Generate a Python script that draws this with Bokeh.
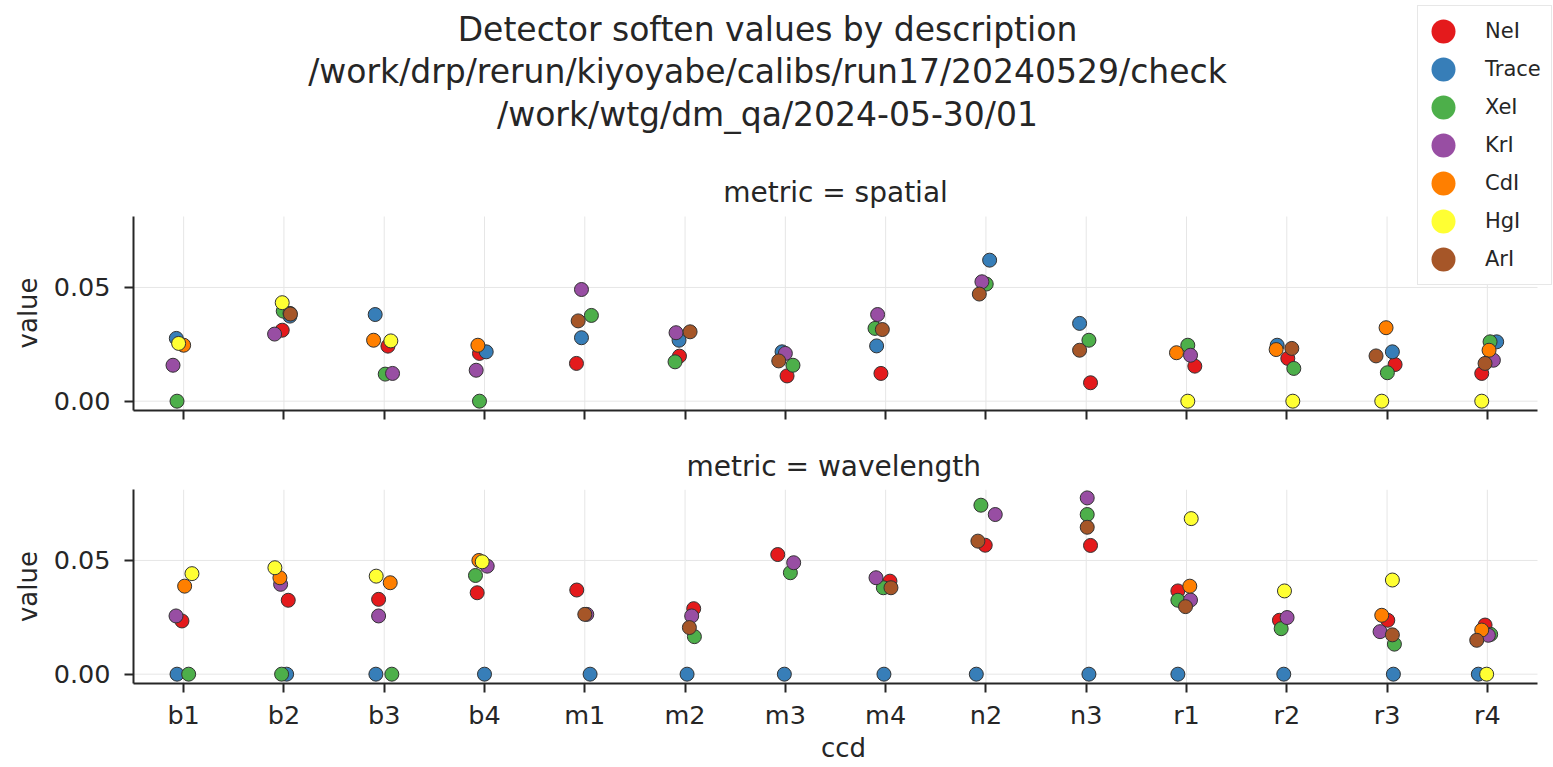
import numpy as np
from bokeh.plotting import figure
from bokeh.models import (Range1d, FixedTicker, NumeralTickFormatter, CustomJSTickFormatter,
                          Legend, LegendItem, Label, ColumnDataSource)
from bokeh.layouts import column
from bokeh.embed import file_html
from bokeh.resources import INLINE

nan = float("nan")

ccds = ["b1", "b2", "b3", "b4", "m1", "m2", "m3", "m4", "n2", "n3", "r1", "r2", "r3", "r4"]
descriptions = ["NeI", "Trace", "XeI", "KrI", "CdI", "HgI", "ArI"]
palette = ["#e41a1c", "#377eb8", "#4daf4a", "#984ea3", "#ff7f00", "#ffff33", "#a65628"]
y_ticks = [0.0, 0.05]

# ---- metric = spatial (values per description, ordered as ccds) ----
spatial_NeI = [nan, 0.0312, 0.0242, 0.0210, 0.0166, 0.0198, 0.0111, 0.0122, nan, 0.0081, 0.0154, 0.0188, 0.0161, 0.0122]
spatial_Trace = [0.0276, 0.0374, 0.0381, 0.0217, 0.0279, 0.0268, 0.0217, 0.0243, 0.0620, 0.0342, nan, 0.0246, 0.0217, 0.0261]
spatial_XeI = [0.0, 0.0396, 0.0119, 0.0, 0.0377, 0.0173, 0.0158, 0.0320, 0.0515, 0.0268, 0.0246, 0.0144, 0.0125, 0.0261]
spatial_KrI = [0.0158, 0.0295, 0.0122, 0.0136, 0.0491, 0.0301, 0.0210, 0.0381, 0.0525, nan, 0.0202, nan, nan, 0.0180]
spatial_CdI = [0.0246, 0.0386, 0.0268, 0.0246, nan, nan, nan, nan, nan, nan, 0.0213, 0.0227, 0.0323, 0.0224]
spatial_HgI = [0.0254, 0.0433, 0.0265, nan, nan, nan, nan, nan, nan, nan, 0.0, 0.0, 0.0, 0.0]
spatial_ArI = [nan, 0.0383, nan, nan, 0.0353, 0.0305, 0.0177, 0.0315, 0.0471, 0.0224, nan, 0.0232, 0.0199, 0.0166]

# strip jitter (in category widths)
jit_spatial_NeI = [0.0, -0.017, 0.037, -0.05, -0.083, -0.056, 0.017, -0.047, 0.0, 0.043, 0.083, 0.01, 0.08, -0.056]
jit_spatial_Trace = [-0.073, 0.06, -0.09, 0.017, -0.033, -0.06, -0.033, -0.09, 0.037, -0.066, 0.0, -0.096, 0.053, 0.093]
jit_spatial_XeI = [-0.066, -0.007, 0.01, -0.05, 0.066, -0.1, 0.076, -0.106, 0.003, 0.027, 0.013, 0.07, 0.003, 0.027]
jit_spatial_KrI = [-0.106, -0.093, 0.083, -0.083, -0.033, -0.09, 0.0, -0.08, -0.04, 0.0, 0.04, 0.0, 0.0, 0.06]
jit_spatial_CdI = [0.0, 0.06, -0.106, -0.066, 0.0, 0.0, 0.0, 0.0, 0.0, 0.0, -0.1, -0.106, -0.01, 0.017]
jit_spatial_HgI = [-0.05, -0.017, 0.066, 0.0, 0.0, 0.0, 0.0, 0.0, 0.0, 0.0, 0.013, 0.06, -0.053, -0.056]
jit_spatial_ArI = [0.0, 0.065, 0.0, 0.0, -0.066, 0.05, -0.066, -0.033, -0.066, -0.066, 0.0, 0.05, -0.11, -0.023]

# ---- metric = wavelength ----
wavelength_NeI = [0.0234, 0.0325, 0.0329, 0.0358, 0.0370, 0.0288, 0.0526, 0.0409, 0.0567, 0.0566, 0.0366, 0.0237, 0.0237, 0.0216]
wavelength_Trace = [0.0, 0.0, 0.0, 0.0, 0.0, 0.0, 0.0, 0.0, 0.0, 0.0, 0.0, 0.0, 0.0, 0.0]
wavelength_XeI = [0.0, 0.0, 0.0, 0.0434, nan, 0.0165, 0.0446, 0.0380, 0.0743, 0.0702, 0.0325, 0.0200, 0.0132, 0.0175]
wavelength_KrI = [0.0256, 0.0395, 0.0256, 0.0475, 0.0263, 0.0256, 0.0490, 0.0424, 0.0702, 0.0775, 0.0326, 0.0249, 0.0187, 0.0171]
wavelength_CdI = [0.0387, 0.0424, 0.0402, 0.0500, nan, nan, nan, nan, nan, nan, 0.0387, nan, 0.0259, 0.0194]
wavelength_HgI = [0.0442, 0.0468, 0.0431, 0.0494, nan, nan, nan, nan, nan, nan, 0.0684, 0.0366, 0.0414, 0.0]
wavelength_ArI = [nan, nan, nan, nan, 0.0263, 0.0205, nan, 0.0380, 0.0585, 0.0646, 0.0297, nan, 0.0173, 0.0149]

jit_wavelength_NeI = [-0.017, 0.043, -0.056, -0.073, -0.08, 0.086, -0.076, 0.043, -0.007, 0.043, -0.086, -0.073, 0.007, -0.023]
jit_wavelength_Trace = [-0.066, 0.027, -0.083, 0.0, 0.053, 0.02, -0.01, -0.017, -0.096, 0.027, -0.086, -0.03, 0.063, -0.09]
jit_wavelength_XeI = [0.05, -0.023, 0.076, -0.09, 0.0, 0.093, 0.05, -0.023, -0.05, 0.01, -0.086, -0.056, 0.073, 0.033]
jit_wavelength_KrI = [-0.076, -0.033, -0.056, 0.027, 0.02, 0.066, 0.083, -0.096, 0.093, 0.01, 0.04, 0.003, -0.07, 0.01]
jit_wavelength_CdI = [0.01, -0.04, 0.06, -0.056, 0.0, 0.0, 0.0, 0.0, 0.0, 0.0, 0.033, 0.0, -0.053, -0.056]
jit_wavelength_HgI = [0.083, -0.09, -0.08, -0.023, 0.0, 0.0, 0.0, 0.0, 0.0, 0.0, 0.047, -0.023, 0.053, -0.007]
jit_wavelength_ArI = [0.0, 0.0, 0.0, 0.0, 0.0, 0.043, 0.0, 0.053, -0.08, 0.01, -0.01, 0.0, 0.053, -0.106]

spatial = [spatial_NeI, spatial_Trace, spatial_XeI, spatial_KrI, spatial_CdI, spatial_HgI, spatial_ArI]
jit_spatial = [jit_spatial_NeI, jit_spatial_Trace, jit_spatial_XeI, jit_spatial_KrI,
               jit_spatial_CdI, jit_spatial_HgI, jit_spatial_ArI]
wavelength = [wavelength_NeI, wavelength_Trace, wavelength_XeI, wavelength_KrI,
              wavelength_CdI, wavelength_HgI, wavelength_ArI]
jit_wavelength = [jit_wavelength_NeI, jit_wavelength_Trace, jit_wavelength_XeI, jit_wavelength_KrI,
                  jit_wavelength_CdI, jit_wavelength_HgI, jit_wavelength_ArI]

suptitle_lines = ["Detector soften values by description",
                  "/work/drp/rerun/kiyoyabe/calibs/run17/20240529/check",
                  "/work/wtg/dm_qa/2024-05-30/01"]

FONT = "DejaVu Sans"
TXT = "#262626"
GRID = "#e6e6e6"
W = 1553
Y0, Y1 = -0.0041, 0.0812
X0, X1 = -0.5, len(ccds) - 0.5
PANEL_H = 194          # pixel height of each panel's plotting area
TOP_FRAME_H = 410      # top figure frame also holds the titles and the legend
CAT_PX = (1537 - 133) / len(ccds)
X_RIGHT = X1 + 16 / CAT_PX   # frame runs to the page edge; axes stop at X1


def style_axes(p, show_x_labels, ylabel):
    p.xaxis.ticker = FixedTicker(ticks=list(range(len(ccds))))
    p.yaxis.ticker = FixedTicker(ticks=y_ticks)
    p.yaxis.formatter = NumeralTickFormatter(format="0.00")
    p.yaxis.axis_label = ylabel
    for ax in p.axis:
        ax.axis_line_color = TXT
        ax.axis_line_width = 2
        ax.major_tick_line_color = TXT
        ax.major_tick_line_width = 2
        ax.major_tick_out = 9
        ax.major_tick_in = 0
        ax.minor_tick_out = 0
        ax.minor_tick_in = 0
        ax.major_label_text_font = FONT
        ax.major_label_text_font_size = "25.5px"
        ax.major_label_text_color = TXT
        ax.axis_label_text_font = FONT
        ax.axis_label_text_font_size = "26px"
        ax.axis_label_text_font_style = "normal"
        ax.axis_label_text_color = TXT
    p.yaxis.major_label_standoff = 14
    p.yaxis.axis_label_standoff = 8
    p.xaxis.bounds = (X0, X1)
    p.yaxis.bounds = (Y0, Y1)
    if show_x_labels:
        p.xaxis.major_label_overrides = {i: c for i, c in enumerate(ccds)}
        p.xaxis.axis_label = "ccd"
        p.xaxis.major_label_standoff = 7
        p.xaxis.axis_label_standoff = 0
    else:
        p.xaxis.formatter = CustomJSTickFormatter(code="return ''")
        p.xaxis.major_label_text_font_size = "1px"
        p.xaxis.major_label_standoff = 0


def add_grid(p):
    p.xgrid.visible = False
    p.ygrid.visible = False
    idx = np.arange(len(ccds))
    p.segment(x0=idx, y0=[Y0] * len(ccds), x1=idx, y1=[Y1] * len(ccds),
              line_color=GRID, line_width=1, level="underlay")
    p.segment(x0=[X0] * len(y_ticks), y0=y_ticks, x1=[X1] * len(y_ticks), y1=y_ticks,
              line_color=GRID, line_width=1, level="underlay")


def add_points(p, values, jitters):
    idx = np.arange(len(ccds))
    for name, col, vals, jit in zip(descriptions, palette, values, jitters):
        src = ColumnDataSource(dict(x=idx + np.array(jit), y=np.array(vals, dtype=float),
                                    ccd=ccds, description=[name] * len(ccds)))
        p.scatter("x", "y", source=src, size=14, fill_color=col, line_color="#333333",
                  line_width=1)


# ---------------- top panel (spatial) ----------------
y_top = Y0 + (Y1 - Y0) * TOP_FRAME_H / PANEL_H
p1 = figure(width=W, height=TOP_FRAME_H + 12, x_range=Range1d(X0, X_RIGHT),
            y_range=Range1d(Y0, y_top), output_backend="svg", toolbar_location=None,
            min_border_left=133, min_border_right=0, min_border_top=0, min_border_bottom=12,
            title=None)
p1.outline_line_color = None
add_grid(p1)
add_points(p1, spatial, jit_spatial)
# the label is centred on the whole (taller) frame: trailing no-break spaces move it
# down to the middle of the panel
style_axes(p1, False, "value" + "\u00a0" * 26)

frame_cx = (1537 - 133) / 2
for txt, base in zip(suptitle_lines, [41.7, 84.3, 127.0]):
    p1.add_layout(Label(x=634, y=TOP_FRAME_H - base + 13, x_units="screen", y_units="screen",
                        text=txt, text_align="center", text_baseline="alphabetic",
                        text_font=FONT, text_font_size="33px", text_color=TXT))
p1.add_layout(Label(x=frame_cx, y=TOP_FRAME_H - 200 + 8, x_units="screen", y_units="screen",
                    text="metric = spatial", text_align="center", text_baseline="alphabetic",
                    text_font=FONT, text_font_size="28px", text_color=TXT))

items = []
for name, col in zip(descriptions, palette):
    r = p1.ellipse(x=[nan], y=[nan], width=10, height=10, width_units="screen",
                   height_units="screen", fill_color=col, line_color=None)
    items.append(LegendItem(label=name, renderers=[r]))
legend = Legend(items=items, location=(1284, 125), glyph_width=30, glyph_height=30,
                spacing=8, padding=10, label_standoff=27, label_text_font=FONT,
                label_text_font_size="21px", label_text_color=TXT,
                border_line_color="#d0d0d0", border_line_width=1,
                background_fill_color="white", background_fill_alpha=1.0)
p1.add_layout(legend)

# ---------------- bottom panel (wavelength) ----------------
p2 = figure(width=W, height=767 - (TOP_FRAME_H + 12), x_range=Range1d(X0, X_RIGHT),
            y_range=Range1d(Y0, Y1), output_backend="svg", toolbar_location=None,
            min_border_left=133, min_border_right=0, min_border_top=67, min_border_bottom=84,
            title="metric = wavelength")
p2.title.align = "left"
p2.title.offset = frame_cx - 149
p2.title.text_font = FONT
p2.title.text_font_size = "28px"
p2.title.text_font_style = "normal"
p2.title.text_color = TXT
p2.title.standoff = 14
p2.outline_line_color = None
add_grid(p2)
add_points(p2, wavelength, jit_wavelength)
style_axes(p2, True, "value")

layout = column(p1, p2)
open("out.html", "w").write(file_html(layout, INLINE))
